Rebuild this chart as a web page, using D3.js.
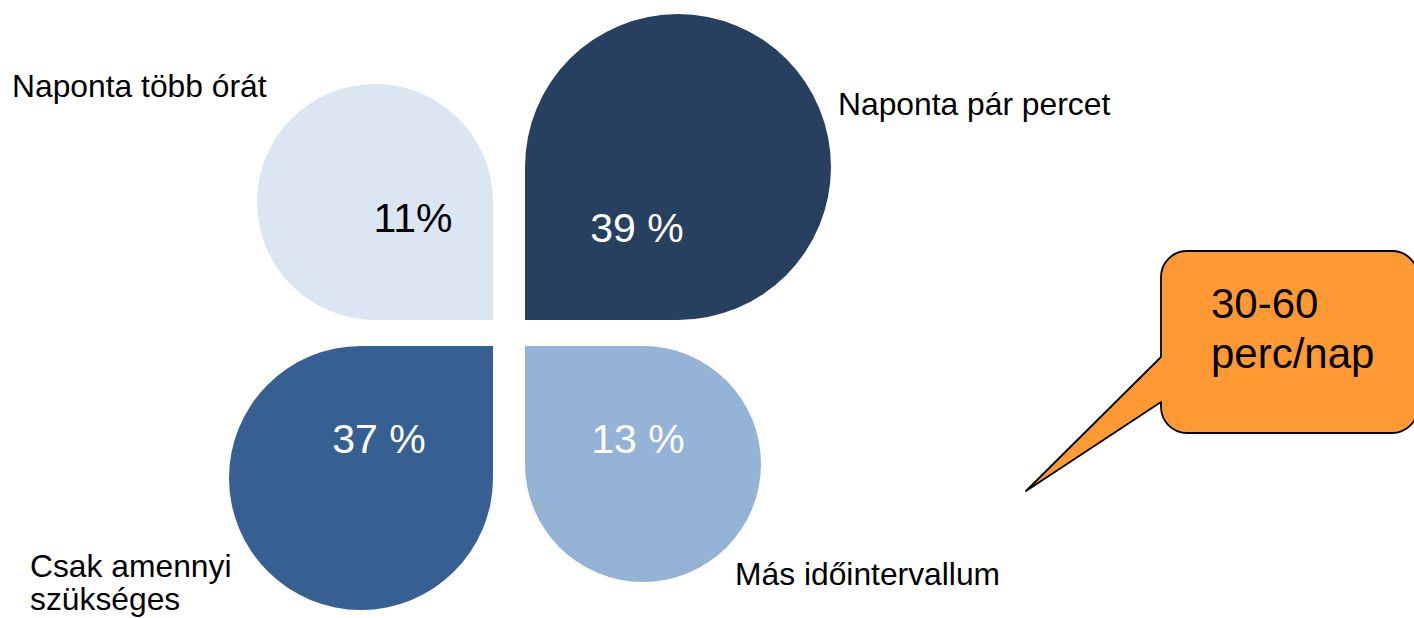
<!DOCTYPE html>
<html>
<head>
<meta charset="utf-8">
<script src="https://cdn.jsdelivr.net/npm/d3@7"></script>
<style>
  html, body { margin: 0; padding: 0; background: #fff; }
  svg { display: block; font-family: "Liberation Sans", Arial, sans-serif; }
</style>
</head>
<body>
<script>
// ---------------------- DATA ----------------------
const categories = ["Naponta több órát", "Naponta pár percet", "Csak amennyi szükséges", "Más időintervallum"];
const values = [11, 39, 37, 13];
const valueLabels = ["11%", "39 %", "37 %", "13 %"];
const calloutLines = ["30-60", "perc/nap"];

// ---------------------- LAYOUT ----------------------
const width = 1414, height = 618;
const center = {x: 509, y: 333};
const gapX = 16, gapY = 13;

// quadrant direction of every petal from the flower centre
const quadrants = [
    {sx: -1, sy: -1, fill: "#dce6f2", text: "#000", ldx: -80, ldy: -88},
    {sx: 1, sy: -1, fill: "#27405f", text: "#fff", ldx: 112, ldy: -78},
    {sx: -1, sy: 1, fill: "#376092", text: "#fff", ldx: -114, ldy: 107},
    {sx: 1, sy: 1, fill: "#95b3d7", text: "#fff", ldx: 113, ldy: 107}
];

// category label anchors (lines split for the two-line one)
const labelPos = [
    {x: 12, y: 97, lines: ["Naponta több órát"]},
    {x: 838, y: 115, lines: ["Naponta pár percet"]},
    {x: 30, y: 577, lines: ["Csak amennyi", "szükséges"]},
    {x: 735, y: 585, lines: ["Más időintervallum"]}
];

// petal radius from value (the drawing is not strictly proportional)
const radius = d3.scaleLinear().domain([11, 13, 37, 39]).range([118, 118, 132, 153]);

const svg = d3.select("body").append("svg")
    .attr("width", width)
    .attr("height", height);

function petalPath(corner, q, r) {
    const ox = corner.x + q.sx * r;
    const oy = corner.y + q.sy * r;
    const theta = Math.atan2(-q.sy, -q.sx); // direction of the square corner
    const p = d3.path();
    p.moveTo(corner.x, corner.y);
    p.arc(ox, oy, r, theta + Math.PI / 4, theta + 7 * Math.PI / 4, false);
    p.closePath();
    return p.toString();
}

const petals = values.map((v, i) => {
    const q = quadrants[i];
    const corner = {x: center.x + q.sx * gapX, y: center.y + q.sy * gapY};
    return {value: v, label: valueLabels[i], q, corner, r: radius(v)};
});

svg.selectAll(".petal")
    .data(petals)
    .join("path")
    .attr("class", "petal")
    .attr("d", d => petalPath(d.corner, d.q, d.r))
    .attr("fill", d => d.q.fill);

svg.selectAll(".value-label")
    .data(petals)
    .join("text")
    .attr("class", "value-label")
    .attr("x", d => d.corner.x + d.q.ldx)
    .attr("y", d => d.corner.y + d.q.ldy)
    .attr("text-anchor", "middle")
    .attr("font-size", 41)
    .attr("fill", d => d.q.text)
    .text(d => d.label);

// category labels
const cat = svg.selectAll(".cat-label")
    .data(labelPos)
    .join("text")
    .attr("class", "cat-label")
    .attr("x", d => d.x)
    .attr("y", d => d.y)
    .attr("font-size", 31.8)
    .attr("fill", "#000");

cat.selectAll("tspan")
    .data(d => d.lines.map((l, j) => ({l, j, x: d.x})))
    .join("tspan")
    .attr("x", d => d.x)
    .attr("dy", d => d.j === 0 ? 0 : 33)
    .text(d => d.l);

// ---------------------- CALLOUT ----------------------
const box = {x0: 1161, y0: 251, x1: 1418, y1: 433, rr: 26};
const tail = {ya: 357, yb: 402, tipX: 1026, tipY: 491};

const c = d3.path();
c.moveTo(box.x0 + box.rr, box.y0);
c.lineTo(box.x1 - box.rr, box.y0);
c.arcTo(box.x1, box.y0, box.x1, box.y0 + box.rr, box.rr);
c.lineTo(box.x1, box.y1 - box.rr);
c.arcTo(box.x1, box.y1, box.x1 - box.rr, box.y1, box.rr);
c.lineTo(box.x0 + box.rr, box.y1);
c.arcTo(box.x0, box.y1, box.x0, box.y1 - box.rr, box.rr);
c.lineTo(box.x0, tail.yb);
c.lineTo(tail.tipX, tail.tipY);
c.lineTo(box.x0, tail.ya);
c.lineTo(box.x0, box.y0 + box.rr);
c.arcTo(box.x0, box.y0, box.x0 + box.rr, box.y0, box.rr);
c.closePath();

svg.append("path")
    .attr("d", c.toString())
    .attr("fill", "#ff9933")
    .attr("stroke", "#000")
    .attr("stroke-width", 1.8)
    .attr("stroke-linejoin", "round");

svg.append("text")
    .attr("font-size", 42)
    .attr("fill", "#000")
    .selectAll("tspan")
    .data(calloutLines)
    .join("tspan")
    .attr("x", 1211)
    .attr("y", (d, i) => 318 + i * 50)
    .text(d => d);
</script>
</body>
</html>
